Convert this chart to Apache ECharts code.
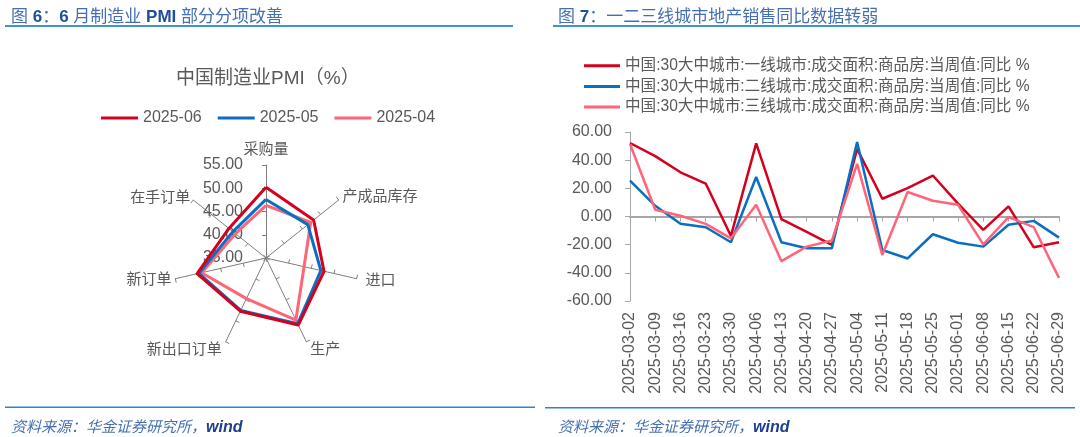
<!DOCTYPE html>
<html>
<head>
<meta charset="utf-8">
<script src="https://cdn.jsdelivr.net/npm/echarts@6/dist/echarts.min.js"></script>
<style>
html,body{margin:0;padding:0;background:#fff;}
#c{width:1080px;height:437px;}
</style>
</head>
<body>
<div id="c"></div>
<script>
// ---- Radar data (PMI sub-indices) ----
const radarIndicators = ['采购量', '在手订单', '新订单', '新出口订单', '生产', '进口', '产成品库存'];
const radarNames = ['2025-06', '2025-05', '2025-04'];
const pmiJun = [50.2, 45.2, 50.2, 47.7, 51.0, 47.8, 48.1];
const pmiMay = [47.6, 44.1, 49.8, 47.5, 50.7, 47.1, 46.5];
const pmiApr = [46.3, 43.4, 49.2, 44.7, 49.8, 43.4, 47.3];
const radarMin = 35, radarMax = 55;

// ---- Line data (30-city property sales YoY) ----
const dates = ['2025-03-02','2025-03-09','2025-03-16','2025-03-23','2025-03-30','2025-04-06','2025-04-13','2025-04-20','2025-04-27','2025-05-04','2025-05-11','2025-05-18','2025-05-25','2025-06-01','2025-06-08','2025-06-15','2025-06-22','2025-06-29'];
const lineNames = [
  '中国:30大中城市:一线城市:成交面积:商品房:当周值:同比 %',
  '中国:30大中城市:二线城市:成交面积:商品房:当周值:同比 %',
  '中国:30大中城市:三线城市:成交面积:商品房:当周值:同比 %'
];
const tier1 = [52.2, 42.9, 31.4, 23.4, -13.8, 51.9, -1.9, -10.9, -20.2, 48.0, 12.6, 20.2, 29.1, 9.1, -9.5, 7.2, -21.9, -18.3];
const tier2 = [25.5, 7.6, -5.2, -7.6, -18.3, 28.1, -18.3, -22.6, -22.6, 52.9, -23.8, -29.8, -12.6, -18.6, -21.4, -5.9, -3.1, -15.0];
const tier3 = [51.5, 4.8, 0.5, -5.2, -15.5, 8.3, -31.7, -21.4, -17.1, 37.4, -27.4, 17.4, 11.2, 8.3, -19.8, -0.5, -7.6, -43.6];

const RED = '#d5001c', BLUE = '#0a6fc0', PINK = '#ff6478';
const FONT = '"Liberation Sans", Arial, "Noto Sans CJK SC", sans-serif';
const GRAY = '#595959';
const fmt2 = v => Number(v).toFixed(2);
const nameGaps = [4, 4, 4, 9, 9, 9, 5];

const chart = echarts.init(document.getElementById('c'), null, {renderer: 'canvas'});

const headRich = {
  n: {color: '#4470b3', fontSize: 17, fontWeight: 'normal', fontFamily: FONT},
  b: {color: '#1d4f9c', fontSize: 17, fontWeight: 'bold', fontFamily: FONT}
};
const footRich = {
  n: {color: '#4470b3', fontSize: 15, fontStyle: 'italic', fontWeight: 'normal', fontFamily: FONT},
  b: {color: '#1d3f8f', fontSize: 16, fontStyle: 'italic', fontWeight: 'bold', fontFamily: FONT}
};

const option = {
  animation: false,
  color: [RED, BLUE, PINK],
  textStyle: {fontFamily: FONT},
  title: [
    {left: 6, top: 4, text: '{n|图 }{b|6}{n|：}{b|6}{n| 月制造业 }{b|PMI}{n| 部分分项改善}', textStyle: {fontWeight: 'normal', rich: headRich}},
    {left: 553, top: 4, text: '{n|图 }{b|7}{n|：一二三线城市地产销售同比数据转弱}', textStyle: {fontWeight: 'normal', rich: headRich}},
    {left: 171, top: 64, text: '中国制造业PMI（%）', textStyle: {color: GRAY, fontSize: 19, fontWeight: 'normal', fontFamily: FONT}},
    {left: 6, top: 415, text: '{n|资料来源：华金证券研究所，}{b|wind}', textStyle: {fontWeight: 'normal', rich: footRich}},
    {left: 553, top: 415, text: '{n|资料来源：华金证券研究所，}{b|wind}', textStyle: {fontWeight: 'normal', rich: footRich}}
  ],
  graphic: [
    {type: 'rect', shape: {x: 5, y: 25, width: 508, height: 2}, style: {fill: '#3f93d1'}, silent: true},
    {type: 'rect', shape: {x: 553, y: 25, width: 527, height: 2}, style: {fill: '#3f93d1'}, silent: true},
    {type: 'rect', shape: {x: 5, y: 406.5, width: 530, height: 1.5}, style: {fill: '#2f84cc'}, silent: true},
    {type: 'rect', shape: {x: 545, y: 407, width: 530, height: 1.5}, style: {fill: '#2f84cc'}, silent: true}
  ],
  legend: [
    {
      data: radarNames, left: 96, top: 105, itemWidth: 37, itemHeight: 3, itemGap: 16,
      icon: 'rect', textStyle: {color: GRAY, fontSize: 16, fontFamily: FONT}
    },
    {
      data: lineNames, orient: 'vertical', left: 579, top: 53, itemWidth: 36, itemHeight: 3, itemGap: 5,
      icon: 'rect', textStyle: {color: GRAY, fontSize: 15.6, fontFamily: FONT}
    }
  ],
  radar: {
    center: [266, 258],
    radius: 93,
    startAngle: 90,
    splitNumber: 4,
    shape: 'polygon',
    indicator: radarIndicators.map((n, i) => i === 0
      ? {name: n, min: radarMin, max: radarMax, nameGap: nameGaps[i], axisLabel: {show: true}}
      : {name: n, min: radarMin, max: radarMax, nameGap: nameGaps[i]}),
    nameGap: 9,
    axisName: {color: GRAY, fontSize: 15, fontFamily: FONT},
    splitLine: {show: false},
    splitArea: {show: false},
    axisLine: {show: true, lineStyle: {color: '#7f7f7f', width: 1}},
    axisTick: {show: true, length: 4, lineStyle: {color: '#7f7f7f', width: 1}},
    axisLabel: {show: false, color: GRAY, fontSize: 16, fontFamily: FONT, formatter: fmt2, margin: 23}
  },
  grid: {left: 630, right: 21, top: 132, bottom: 136, containLabel: false},
  xAxis: [
    {
      type: 'category', data: dates, boundaryGap: false, position: 'bottom',
      axisLine: {show: false, onZero: false}, axisTick: {show: false},
      axisLabel: {rotate: 90, color: GRAY, fontSize: 16, fontFamily: FONT, margin: 11, interval: 0}
    },
    {
      type: 'category', data: dates, boundaryGap: false, position: 'bottom',
      axisLine: {show: true, onZero: true, lineStyle: {color: '#a6a6a6', width: 2}},
      axisTick: {show: true, length: 5, interval: 0, lineStyle: {color: '#a6a6a6', width: 1}},
      axisLabel: {show: false}
    }
  ],
  yAxis: {
    type: 'value', min: -60, max: 60, interval: 20,
    axisLine: {show: true, lineStyle: {color: '#a6a6a6', width: 1}},
    axisTick: {show: true, length: 5, lineStyle: {color: '#a6a6a6'}},
    splitLine: {show: false},
    axisLabel: {color: GRAY, fontSize: 16, fontFamily: FONT, formatter: fmt2, margin: 18}
  },
  series: [
    {type: 'radar', name: radarNames[0], symbol: 'none', z: 4, lineStyle: {width: 3}, data: [{name: radarNames[0], value: pmiJun}]},
    {type: 'radar', name: radarNames[1], symbol: 'none', z: 3, lineStyle: {width: 3}, data: [{name: radarNames[1], value: pmiMay}]},
    {type: 'radar', name: radarNames[2], symbol: 'none', z: 2, lineStyle: {width: 3}, data: [{name: radarNames[2], value: pmiApr}]},
    {type: 'line', name: lineNames[0], xAxisIndex: 0, symbol: 'none', lineStyle: {width: 2.5}, data: tier1},
    {type: 'line', name: lineNames[1], xAxisIndex: 0, symbol: 'none', lineStyle: {width: 2.5}, data: tier2},
    {type: 'line', name: lineNames[2], xAxisIndex: 0, symbol: 'none', lineStyle: {width: 2.5}, data: tier3}
  ]
};
chart.setOption(option);
</script>
</body>
</html>
